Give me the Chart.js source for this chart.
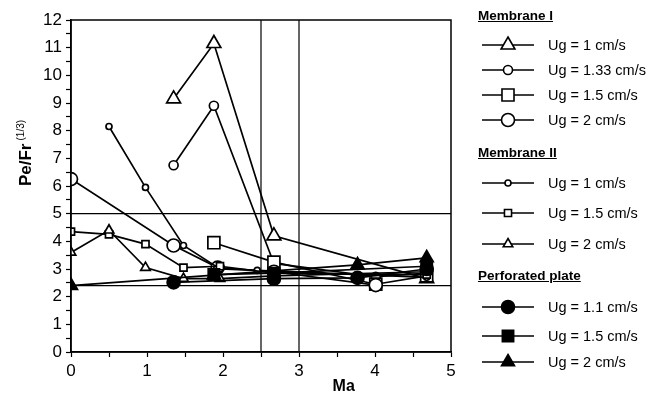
<!DOCTYPE html>
<html>
<head>
<meta charset="utf-8">
<script src="https://cdn.jsdelivr.net/npm/chart.js@4/dist/chart.umd.min.js"></script>
<style>
  html, body { margin: 0; padding: 0; background: #fff; }
  #wrap { position: relative; width: 657px; height: 396px; font-family: "Liberation Sans", Arial, sans-serif; color: #000; }
  canvas { position: absolute; left: 0; top: 0; }
  .hdr { position: absolute; font-weight: bold; font-size: 13.5px; text-decoration: underline; white-space: nowrap; line-height: 16px; }
  .item { position: absolute; font-size: 14.5px; white-space: nowrap; line-height: 16px; }
  #xt { position: absolute; font-weight: bold; font-size: 16px; line-height: 18px; }
  #yt { position: absolute; font-weight: bold; font-size: 17px; white-space: nowrap; width: 120px; height: 20px; line-height: 20px; text-align: center; transform: rotate(-90deg); }
  #yt sup { font-size: 10px; font-weight: normal; vertical-align: 0; position: relative; top: -7px; margin-left: 3px; }
</style>
</head>
<body>
<div id="wrap">
  <canvas id="c" width="657" height="396"></canvas>
  <div id="xt">Ma</div>
  <div id="yt">Pe/Fr<sup>(1/3)</sup></div>
</div>
<script>
// ---- data ----
const xTicks = [0, 1, 2, 3, 4, 5];
const yTicks = [0, 1, 2, 3, 4, 5, 6, 7, 8, 9, 10, 11, 12];
const refVertical = [2.5, 3];
const refHorizontal = [5, 2.4];

const seriesNames = [
  "Ug = 1 cm/s", "Ug = 1.33 cm/s", "Ug = 1.5 cm/s", "Ug = 2 cm/s",
  "Ug = 1 cm/s", "Ug = 1.5 cm/s", "Ug = 2 cm/s",
  "Ug = 1.1 cm/s", "Ug = 1.5 cm/s", "Ug = 2 cm/s"
];
const groupNames = ["Membrane I", "Membrane II", "Perforated plate"];

const maM1Ug1   = [1.35, 1.88, 2.67, 4.68];
const peM1Ug1   = [9.15, 11.15, 4.2, 2.65];
const maM1Ug133 = [1.35, 1.88, 2.67, 4.01, 4.68];
const peM1Ug133 = [6.75, 8.9, 3.2, 2.72, 2.85];
const maM1Ug15  = [1.88, 2.67, 4.01, 4.68];
const peM1Ug15  = [3.95, 3.25, 2.45, 2.75];
const maM1Ug2   = [0, 1.35, 1.93, 2.67, 4.01];
const peM1Ug2   = [6.25, 3.85, 3.05, 2.9, 2.42];

const maM2Ug1   = [0.5, 0.98, 1.48, 1.96, 2.45, 4.68];
const peM2Ug1   = [8.15, 5.95, 3.85, 3.0, 2.95, 2.7];
const maM2Ug15  = [0, 0.5, 0.98, 1.48, 1.96, 2.67, 4.68];
const peM2Ug15  = [4.35, 4.25, 3.9, 3.05, 3.1, 2.85, 2.8];
const maM2Ug2   = [0, 0.5, 0.98, 1.48, 1.96, 2.67, 4.68];
const peM2Ug2   = [3.6, 4.4, 3.05, 2.65, 2.65, 2.75, 2.9];

const maPUg11   = [1.35, 2.67, 3.77, 4.68];
const pePUg11   = [2.52, 2.65, 2.68, 3.0];
const maPUg15   = [1.88, 2.67, 4.68];
const pePUg15   = [2.8, 2.85, 3.1];
const maPUg2    = [0, 1.88, 3.77, 4.68];
const pePUg2    = [2.4, 2.78, 3.15, 3.4];

// ---- styles ----
const markerStyles = [
  { pointStyle: 'triangle', radius: 8,   fill: '#fff' },
  { pointStyle: 'circle',   radius: 4.5, fill: '#fff' },
  { pointStyle: 'rect',     radius: 8.5, fill: '#fff' },
  { pointStyle: 'circle',   radius: 6.5, fill: '#fff' },
  { pointStyle: 'circle',   radius: 3,   fill: '#fff' },
  { pointStyle: 'rect',     radius: 5,   fill: '#fff' },
  { pointStyle: 'triangle', radius: 5.5, fill: '#fff' },
  { pointStyle: 'circle',   radius: 6.5, fill: '#000' },
  { pointStyle: 'rect',     radius: 8,   fill: '#000' },
  { pointStyle: 'triangle', radius: 7.5, fill: '#000' }
];
const seriesX = [maM1Ug1, maM1Ug133, maM1Ug15, maM1Ug2, maM2Ug1, maM2Ug15, maM2Ug2, maPUg11, maPUg15, maPUg2];
const seriesY = [peM1Ug1, peM1Ug133, peM1Ug15, peM1Ug2, peM2Ug1, peM2Ug15, peM2Ug2, pePUg11, pePUg15, pePUg2];

const Y_MIN = yTicks[0], Y_MAX = yTicks[yTicks.length - 1];
const X_MIN = xTicks[0], X_MAX = xTicks[xTicks.length - 1];

const datasets = [];
seriesX.forEach((xs, i) => {
  const st = markerStyles[i];
  datasets.push({
    label: seriesNames[i],
    data: xs.map((x, k) => ({ x: x, y: seriesY[i][k] })),
    showLine: true,
    borderColor: '#000',
    borderWidth: 1.7,
    pointStyle: st.pointStyle,
    pointRadius: st.radius,
    pointBackgroundColor: st.fill,
    pointBorderColor: '#000',
    pointBorderWidth: 1.7,
    order: 10 - i
  });
});
refVertical.forEach(v => datasets.push({
  data: [{ x: v, y: Y_MIN }, { x: v, y: Y_MAX }],
  showLine: true, borderColor: '#000', borderWidth: 1.2, pointRadius: 0, order: 100
}));
refHorizontal.forEach(h => datasets.push({
  data: [{ x: X_MIN, y: h }, { x: X_MAX, y: h }],
  showLine: true, borderColor: '#000', borderWidth: 1.2, pointRadius: 0, order: 100
}));

// ---- legend layout ----
const LEG = { lineX0: 482, lineX1: 534, markX: 508, textX: 548, hdrX: 478 };
const legendRows = [
  { hdr: 0, y: 16 },
  { s: 0, y: 45 }, { s: 1, y: 70 }, { s: 2, y: 95 }, { s: 3, y: 120 },
  { hdr: 1, y: 153 },
  { s: 4, y: 183 }, { s: 5, y: 213 }, { s: 6, y: 244 },
  { hdr: 2, y: 276 },
  { s: 7, y: 307 }, { s: 8, y: 336 }, { s: 9, y: 362 }
];

function drawMarker(ctx, style, r, x, y) {
  ctx.beginPath();
  if (style === 'circle') {
    ctx.arc(x, y, r, 0, Math.PI * 2);
  } else if (style === 'rect') {
    const s = Math.SQRT1_2 * r;
    ctx.rect(x - s, y - s, 2 * s, 2 * s);
  } else if (style === 'triangle') {
    ctx.moveTo(x, y - r);
    ctx.lineTo(x + r * Math.sin(2 * Math.PI / 3), y - r * Math.cos(2 * Math.PI / 3));
    ctx.lineTo(x + r * Math.sin(4 * Math.PI / 3), y - r * Math.cos(4 * Math.PI / 3));
    ctx.closePath();
  }
  ctx.fill();
  ctx.stroke();
}

const framePlugin = {
  id: 'frame',
  afterDatasetsDraw(chart) {
    const { ctx, chartArea: a } = chart;
    ctx.save();
    ctx.strokeStyle = '#000';
    ctx.lineWidth = 1.5;
    ctx.strokeRect(a.left, a.top, a.right - a.left, a.bottom - a.top);
    ctx.restore();
  },
  afterDraw(chart) {
    const ctx = chart.ctx;
    ctx.save();
    legendRows.forEach(row => {
      if (row.s === undefined) return;
      const st = markerStyles[row.s];
      ctx.strokeStyle = '#000';
      ctx.lineWidth = 1.5;
      ctx.beginPath();
      ctx.moveTo(LEG.lineX0, row.y);
      ctx.lineTo(LEG.lineX1, row.y);
      ctx.stroke();
      ctx.fillStyle = st.fill;
      ctx.lineWidth = 1.6;
      drawMarker(ctx, st.pointStyle, st.radius, LEG.markX, row.y);
    });
    ctx.restore();
  }
};

// HTML legend text
const wrap = document.getElementById('wrap');
legendRows.forEach(row => {
  const d = document.createElement('div');
  if (row.hdr !== undefined) {
    d.className = 'hdr';
    d.textContent = groupNames[row.hdr];
    d.style.left = LEG.hdrX + 'px';
  } else {
    d.className = 'item';
    d.textContent = seriesNames[row.s];
    d.style.left = LEG.textX + 'px';
  }
  d.style.top = (row.y - 8) + 'px';
  wrap.appendChild(d);
});

const tickFont = { family: '"Liberation Sans", Arial, sans-serif', size: 17 };

const chart = new Chart(document.getElementById('c'), {
  type: 'scatter',
  data: { datasets: datasets },
  options: {
    responsive: false,
    devicePixelRatio: 1,
    animation: false,
    events: [],
    layout: { padding: { left: 0, right: 206, top: 20, bottom: 0 } },
    plugins: { legend: { display: false }, tooltip: { enabled: false } },
    scales: {
      x: {
        type: 'linear', min: X_MIN, max: X_MAX,
        afterFit(scale) { scale.height = 44; },
        ticks: {
          stepSize: 0.5, autoSkip: false, color: '#000', font: tickFont, padding: 4,
          maxRotation: 0,
          callback: v => (xTicks.includes(v) ? String(v) : '')
        },
        grid: { drawOnChartArea: false, drawTicks: true, tickLength: 5, color: '#000', tickWidth: 1.2 },
        border: { display: true, color: '#000', width: 1.5 }
      },
      y: {
        type: 'linear', min: Y_MIN, max: Y_MAX,
        afterFit(scale) { scale.width = 71; },
        ticks: {
          stepSize: 0.5, autoSkip: false, color: '#000', font: tickFont, padding: 4,
          callback: v => (yTicks.includes(v) ? String(v) : '')
        },
        grid: { drawOnChartArea: false, drawTicks: true, tickLength: 5, color: '#000', tickWidth: 1.2 },
        border: { display: true, color: '#000', width: 1.5 }
      }
    }
  },
  plugins: [framePlugin]
});

// axis titles positioned from the chart's scales
const xs = chart.scales.x, ys = chart.scales.y;
const xt = document.getElementById('xt');
xt.style.left = (xs.getPixelForValue(3.6) - 12) + 'px';
xt.style.top = (xs.top + 25) + 'px';
const yt = document.getElementById('yt');
yt.style.left = (26 - 60) + 'px';
yt.style.top = (ys.getPixelForValue(7.2) - 10) + 'px';
</script>
</body>
</html>
